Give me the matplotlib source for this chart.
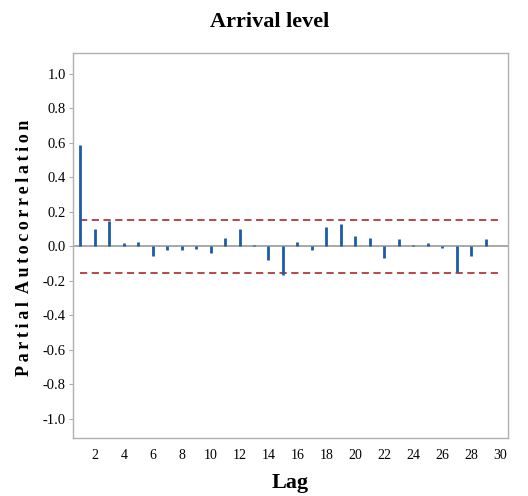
import numpy as np
import matplotlib
matplotlib.use("Agg")
import matplotlib.pyplot as plt

# partial autocorrelation by lag
lags = np.arange(1, 30)
pacf = [0.588, 0.10, 0.148, 0.018, 0.025, -0.055, -0.022, -0.022, -0.015, -0.04,
        0.051, 0.10, 0.008, -0.08, -0.167, 0.025, -0.022, 0.113, 0.13, 0.058,
        0.05, -0.065, 0.043, 0.01, 0.018, -0.01, -0.148, -0.057, 0.043]
conf_limit = 0.152
yticks = [1.0, 0.8, 0.6, 0.4, 0.2, 0.0, -0.2, -0.4, -0.6, -0.8, -1.0]
xticks = list(range(2, 31, 2))

plt.rcParams['font.family'] = ['Liberation Serif', 'DejaVu Serif']

fig = plt.figure(figsize=(5.28, 4.96), dpi=100)
ax = fig.add_axes([0.138, 0.117, 0.824, 0.776])

ax.axhline(0, color='#9a9a9a', lw=1.2, zorder=1)
ax.vlines(lags, 0, pacf, color='#1a5ca8', lw=2.0, zorder=3)
ax.hlines([conf_limit, -conf_limit], 1, 30, color='#b03a3a', lw=1.3,
          linestyles=(0, (4, 2.5)), zorder=2)

ax.set_xlim(0.48, 30.55)
ax.set_ylim(-1.11, 1.12)
ax.set_xticks(xticks)
ax.set_xticklabels([str(t) for t in xticks])
ax.set_yticks(yticks)
ax.set_yticklabels(['%.1f' % t for t in yticks])
ax.tick_params(axis='x', length=0, pad=8, labelsize=10)
ax.tick_params(axis='y', length=3, width=0.8, color='#aaaaaa', pad=2, labelsize=10.5)

for s in ax.spines.values():
    s.set_color('#b0b0b0')
    s.set_linewidth(1.0)

fig.text(0.51, 0.955, 'Arrival level', ha='center', va='center',
         fontsize=16, fontweight='bold')
fig.text(0.55, 0.026, 'Lag', ha='center', va='center',
         fontsize=16, fontweight='bold')
ylab = '\u2009'.join('Partial') + '  ' + '\u2009'.join('Autocorrelation')
fig.text(0.047, 0.501, ylab, ha='center', va='center', rotation=90,
         fontsize=13, fontweight='bold')

fig.savefig('out.png', dpi=100)
